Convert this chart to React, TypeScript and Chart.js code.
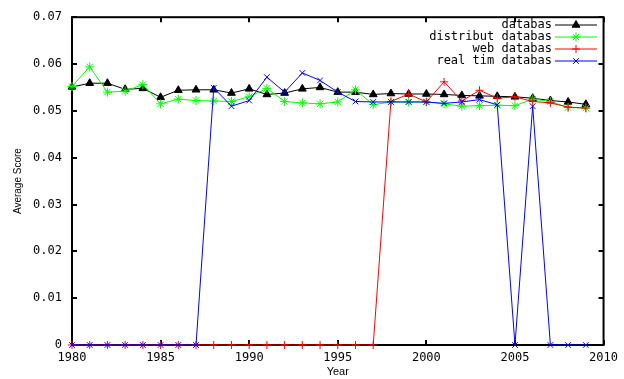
import React, { useEffect, useRef } from "react";
import { Chart, registerables } from "chart.js";
import { drawPoint } from "chart.js/helpers";

Chart.register(...registerables);

const years = [1980, 1981, 1982, 1983, 1984, 1985, 1986, 1987, 1988, 1989, 1990, 1991, 1992, 1993, 1994, 1995, 1996, 1997, 1998, 1999, 2000, 2001, 2002, 2003, 2004, 2005, 2006, 2007, 2008, 2009];

const databas = [0.0551, 0.0559, 0.0559, 0.0546, 0.0548, 0.0529, 0.0544, 0.0545, 0.0545, 0.0538, 0.0547, 0.0535, 0.0538, 0.0547, 0.055, 0.054, 0.054, 0.0535, 0.0537, 0.0536, 0.0536, 0.0535, 0.0533, 0.0532, 0.0531, 0.053, 0.0527, 0.0522, 0.0519, 0.0514];
const distributDatabas = [0.0552, 0.0594, 0.054, 0.0542, 0.0556, 0.0515, 0.0525, 0.0522, 0.0521, 0.052, 0.053, 0.0548, 0.052, 0.0517, 0.0515, 0.0519, 0.0545, 0.0513, 0.0519, 0.0519, 0.0519, 0.0515, 0.051, 0.0511, 0.0512, 0.0511, 0.0525, 0.052, 0.0507, 0.0506];
const webDatabas = [0, 0, 0, 0, 0, 0, 0, 0, 0, 0, 0, 0, 0, 0, 0, 0, 0, 0, 0.052, 0.0536, 0.0519, 0.0562, 0.0521, 0.0544, 0.0527, 0.053, 0.052, 0.0517, 0.0508, 0.0506];
const realTimDatabas = [0, 0, 0, 0, 0, 0, 0, 0, 0.0549, 0.051, 0.0522, 0.0572, 0.054, 0.0581, 0.0565, 0.054, 0.052, 0.0519, 0.0519, 0.0519, 0.0519, 0.0516, 0.0519, 0.0524, 0.0513, 0, 0.051, 0, 0, 0];

const seriesNames = ["databas", "distribut databas", "web databas", "real tim databas"];
const seriesColors = ["#000000", "#00ff00", "#ff0000", "#0000ff"];
const seriesPoints = ["triangle", "star", "cross", "crossRot"];
const seriesRadius = [4.5, 4.5, 4, 4];

const xTicks = [1980, 1985, 1990, 1995, 2000, 2005, 2010];
const yTicks = [0, 0.01, 0.02, 0.03, 0.04, 0.05, 0.06, 0.07];

const MONO = "'DejaVu Sans Mono', monospace";

const framePlugin = {
  id: "frameTicks",
  beforeDatasetsDraw(chart: any) {
    const { ctx, chartArea: a, scales } = chart;
    ctx.save();
    ctx.strokeStyle = "#000";
    ctx.lineWidth = 2;
    ctx.strokeRect(a.left, a.top, a.right - a.left, a.bottom - a.top);
    const L = 5;
    ctx.beginPath();
    xTicks.forEach((v) => {
      const x = Math.round(scales.x.getPixelForValue(v));
      ctx.moveTo(x, a.bottom);
      ctx.lineTo(x, a.bottom - L);
      ctx.moveTo(x, a.top);
      ctx.lineTo(x, a.top + L);
    });
    yTicks.forEach((v) => {
      const y = Math.round(scales.y.getPixelForValue(v));
      ctx.moveTo(a.left, y);
      ctx.lineTo(a.left + L, y);
      ctx.moveTo(a.right, y);
      ctx.lineTo(a.right - L, y);
    });
    ctx.stroke();
    ctx.restore();
  },
};

const legendPlugin = {
  id: "gnuLegend",
  afterDatasetsDraw(chart: any) {
    const { ctx } = chart;
    ctx.save();
    ctx.font = `12px ${MONO}`;
    ctx.textAlign = "right";
    ctx.textBaseline = "middle";
    seriesNames.forEach((name, i) => {
      const y = 25 + i * 12;
      ctx.fillStyle = "#000";
      ctx.fillText(name, 552, y);
      ctx.strokeStyle = seriesColors[i];
      ctx.lineWidth = 1;
      ctx.beginPath();
      ctx.moveTo(555, y);
      ctx.lineTo(597, y);
      ctx.stroke();
      ctx.fillStyle = seriesColors[i];
      drawPoint(ctx, { pointStyle: seriesPoints[i], radius: seriesRadius[i], rotation: 0, borderWidth: 1 } as any, 576, y);
    });
    ctx.restore();
  },
};

function makeSet(label: string, values: number[], i: number, order: number) {
  return {
    label,
    data: years.map((yr, k) => ({ x: yr, y: values[k] })),
    borderColor: seriesColors[i],
    backgroundColor: seriesColors[i],
    borderWidth: 1,
    pointStyle: seriesPoints[i],
    pointRadius: seriesRadius[i],
    pointBorderWidth: 1,
    pointBackgroundColor: seriesColors[i],
    pointBorderColor: seriesColors[i],
    tension: 0,
    clip: false,
    order,
  };
}

export default function App() {
  const ref = useRef<HTMLCanvasElement>(null);
  useEffect(() => {
    if (!ref.current) return;
    const chart = new Chart(ref.current, {
      type: "line",
      data: {
        datasets: [
          makeSet(seriesNames[0], databas, 0, 4),
          makeSet(seriesNames[1], distributDatabas, 1, 3),
          makeSet(seriesNames[2], webDatabas, 2, 2),
          makeSet(seriesNames[3], realTimDatabas, 3, 1),
        ] as any,
      },
      options: {
        animation: false,
        responsive: false,
        maintainAspectRatio: false,
        layout: { padding: { left: 0, top: 16, right: 12, bottom: 0 } },
        plugins: { legend: { display: false }, tooltip: { enabled: false } },
        scales: {
          x: {
            type: "linear",
            min: 1980,
            max: 2010,
            afterFit: (s: any) => {
              s.height = 34;
            },
            afterBuildTicks: (s: any) => {
              s.ticks = xTicks.map((v) => ({ value: v }));
            },
            grid: { display: false, drawTicks: false },
            border: { display: false },
            ticks: {
              color: "#000",
              font: { family: MONO, size: 12 },
              padding: 6,
              maxRotation: 0,
              autoSkip: false,
              callback: (v: any) => String(v),
            },
            title: {
              display: true,
              text: "Year",
              color: "#000",
              font: { family: "'Liberation Sans', sans-serif", size: 11 },
              padding: { top: 0, bottom: 0 },
            },
          },
          y: {
            type: "linear",
            min: 0,
            max: 0.07,
            afterFit: (s: any) => {
              s.width = 72;
            },
            afterBuildTicks: (s: any) => {
              s.ticks = yTicks.map((v) => ({ value: v }));
            },
            grid: { display: false, drawTicks: false },
            border: { display: false },
            ticks: {
              color: "#000",
              font: { family: MONO, size: 12 },
              padding: 10,
              autoSkip: false,
              callback: (v: any) => (v === 0 ? "0" : Number(v).toFixed(2)),
            },
            title: {
              display: true,
              text: "Average Score",
              color: "#000",
              font: { family: "'Liberation Sans', sans-serif", size: 10 },
              padding: { top: 12, bottom: 0 },
            },
          },
        },
      },
      plugins: [framePlugin, legendPlugin],
    });
    return () => chart.destroy();
  }, []);
  return (
    <div style={{ position: "fixed", left: 0, top: 0, width: 624, height: 379, background: "#fff" }}>
      <canvas ref={ref} width={624} height={379} style={{ width: 624, height: 379 }} />
    </div>
  );
}
